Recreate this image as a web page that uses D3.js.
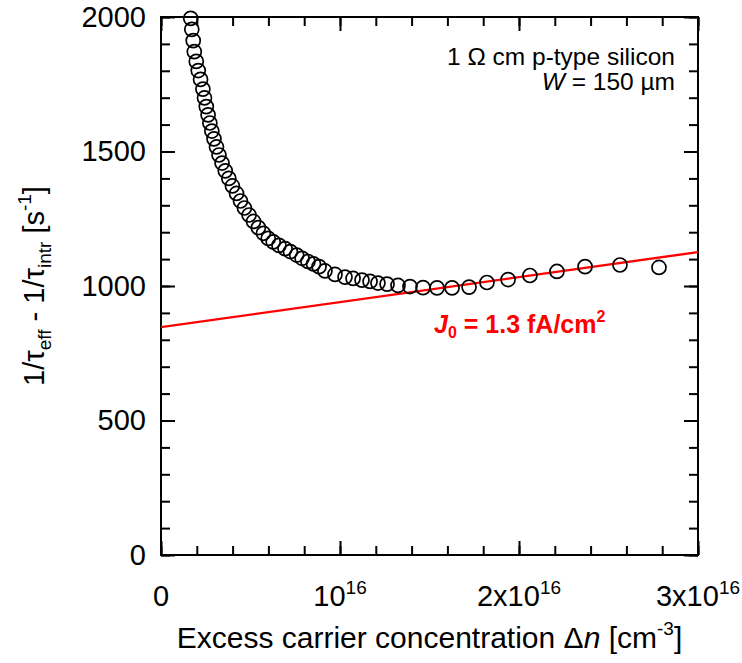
<!DOCTYPE html>
<html><head><meta charset="utf-8">
<script src="https://cdn.jsdelivr.net/npm/d3@7"></script>
<style>body{margin:0;background:#fff}svg{display:block}text{font-family:"Liberation Sans",Arial,sans-serif;fill:#000}</style>
</head><body><svg id="c" width="742" height="663"></svg>
<script>
// Excess carrier density (units of 1e15 cm^-3)
const dnValues = [1.66,1.72,1.80,1.86,1.97,2.08,2.21,2.34,2.43,2.53,2.63,2.73,2.84,2.96,3.10,3.24,3.41,3.59,3.79,3.99,
  4.22,4.44,4.66,4.92,5.17,5.44,5.72,5.99,6.27,6.59,6.93,7.23,7.58,7.88,8.21,8.52,8.83,9.16,9.72,10.28,
  10.73,11.23,11.68,12.12,12.63,13.24,13.91,14.64,15.42,16.26,17.21,18.21,19.39,20.61,22.12,23.69,25.64,27.82];
// 1/tau_eff - 1/tau_intr (s^-1)
const rateValues = [1995,1954,1912,1871,1835,1801,1768,1732,1699,1667,1636,1606,1576,1547,1517,1487,1457,1428,1400,1372,
  1344,1316,1290,1264,1240,1217,1196,1177,1164,1151,1139,1128,1115,1103,1091,1082,1072,1056,1043,1033,
  1028,1022,1017,1011,1007,1002,998,994,993,993,996,1013,1024,1039,1054,1072,1078,1069];
const fitDn = [0, 30];
const fitRate = [847, 1126];
const xMajorTicks = [0, 10, 20, 30];
const xTickBase = ["0", "10", "2x10", "3x10"];
const xTickExp = ["", "16", "16", "16"];
const xMinorTicks = d3.range(0, 30.01, 2);
const yMajorTicks = [0, 500, 1000, 1500, 2000];
const yMinorTicks = d3.range(0, 2001, 100);

const L = 161, R = 698, T = 17, B = 555;
const svg = d3.select("#c");
const x = d3.scaleLinear().domain([0, 30]).range([L, R]);
const y = d3.scaleLinear().domain([0, 2000]).range([B, T]);

function axisGroup(axis, tx, ty) {
  const g = svg.append("g").attr("transform", `translate(${tx},${ty})`).call(axis);
  g.select(".domain").remove();
  g.selectAll(".tick line").attr("stroke", "#000").attr("stroke-width", 2);
  return g;
}
axisGroup(d3.axisBottom(x).tickValues(xMinorTicks).tickSize(-9).tickFormat(""), 0, B);
axisGroup(d3.axisTop(x).tickValues(xMinorTicks).tickSize(-9).tickFormat(""), 0, T);
axisGroup(d3.axisBottom(x).tickValues(xMajorTicks).tickSize(-14).tickFormat(""), 0, B);
axisGroup(d3.axisTop(x).tickValues(xMajorTicks).tickSize(-14).tickFormat(""), 0, T);
axisGroup(d3.axisLeft(y).tickValues(yMinorTicks).tickSize(-9).tickFormat(""), L, 0);
axisGroup(d3.axisRight(y).tickValues(yMinorTicks).tickSize(-9).tickFormat(""), R, 0);
const yl = axisGroup(d3.axisLeft(y).tickValues(yMajorTicks).tickSize(-14).tickPadding(15).tickFormat(d3.format("d")), L, 0);
yl.selectAll("text").attr("font-size", 29).attr("font-family", null);
axisGroup(d3.axisRight(y).tickValues(yMajorTicks).tickSize(-14).tickFormat(""), R, 0);

svg.append("rect").attr("x", L).attr("y", T).attr("width", R - L).attr("height", B - T)
  .attr("fill", "none").attr("stroke", "#000").attr("stroke-width", 2);

const xl = svg.append("g");
xMajorTicks.forEach((v, i) => {
  const t = xl.append("text").attr("x", x(v)).attr("y", 606).attr("font-size", 29).attr("text-anchor", "middle");
  t.append("tspan").text(xTickBase[i]);
  if (xTickExp[i]) t.append("tspan").attr("font-size", 19).attr("dy", -12).text(xTickExp[i]);
});

svg.append("clipPath").attr("id", "clip").append("rect").attr("x", L).attr("y", T).attr("width", R - L).attr("height", B - T);

svg.append("line").attr("clip-path", "url(#clip)")
  .attr("x1", x(fitDn[0])).attr("y1", y(fitRate[0])).attr("x2", x(fitDn[1])).attr("y2", y(fitRate[1]))
  .attr("stroke", "#ff0000").attr("stroke-width", 2.4);

svg.append("g").selectAll("circle").data(dnValues).join("circle")
  .attr("cx", (d) => x(d)).attr("cy", (d, i) => y(rateValues[i])).attr("r", 7)
  .attr("fill", "none").attr("stroke", "#000").attr("stroke-width", 1.7);

const j = svg.append("text").attr("x", 434).attr("y", 333).attr("font-size", 25).attr("font-weight", "bold").style("fill", "#ff0000");
j.append("tspan").attr("font-style", "italic").text("J");
j.append("tspan").attr("font-size", 16).attr("dy", 5).text("0");
j.append("tspan").attr("dy", -5).text(" = 1.3 fA/cm");
j.append("tspan").attr("font-size", 16).attr("dy", -11).text("2");

svg.append("text").attr("x", 675).attr("y", 65).attr("font-size", 24.5).attr("text-anchor", "end").text("1 \u03A9 cm p-type silicon");
const w = svg.append("text").attr("x", 675).attr("y", 90).attr("font-size", 24.5).attr("text-anchor", "end");
w.append("tspan").attr("font-style", "italic").text("W");
w.append("tspan").text(" = 150 \u00B5m");

const xt = svg.append("text").attr("x", (L + R) / 2).attr("y", 648).attr("font-size", 30).attr("text-anchor", "middle");
xt.append("tspan").text("Excess carrier concentration \u0394");
xt.append("tspan").attr("font-style", "italic").text("n");
xt.append("tspan").text(" [cm");
xt.append("tspan").attr("font-size", 19).attr("dy", -13).text("-3");
xt.append("tspan").attr("dy", 13).text("]");

const yt = svg.append("text").attr("transform", "translate(44,286) rotate(-90)").attr("font-size", 29).attr("text-anchor", "middle");
yt.append("tspan").text("1/\u03C4");
yt.append("tspan").attr("font-size", 19).attr("dy", 7).text("eff");
yt.append("tspan").attr("dy", -7).text(" - 1/\u03C4");
yt.append("tspan").attr("font-size", 19).attr("dy", 7).text("intr");
yt.append("tspan").attr("dy", -7).text(" [s");
yt.append("tspan").attr("font-size", 19).attr("dy", -13).text("-1");
yt.append("tspan").attr("dy", 13).text("]");
</script></body></html>
